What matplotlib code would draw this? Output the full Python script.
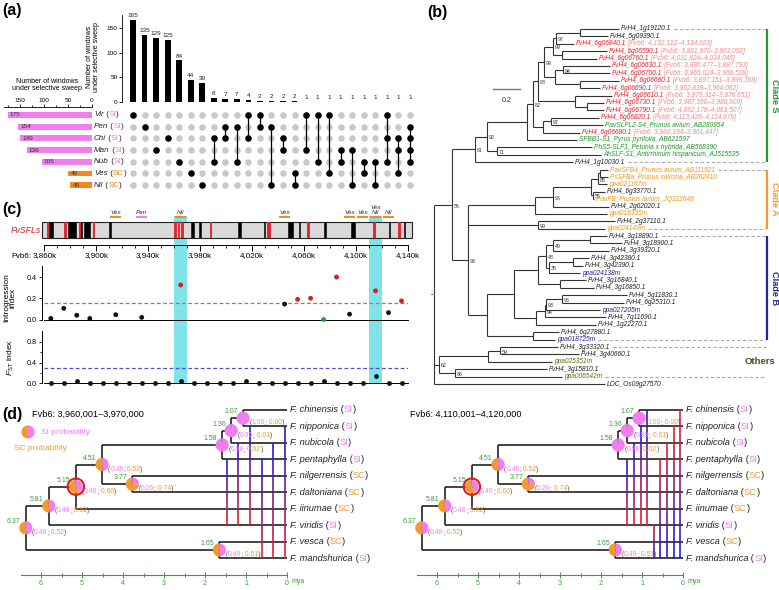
import numpy as np
import matplotlib
matplotlib.use("Agg")
import matplotlib.pyplot as plt
import matplotlib.transforms as mtransforms
from matplotlib.collections import LineCollection
from matplotlib.patches import Wedge, Circle, Rectangle
from matplotlib.colors import to_rgb

plt.rcParams['font.family'] = ['Liberation Sans', 'DejaVu Sans']
plt.rcParams['mathtext.fontset'] = 'custom'
plt.rcParams['mathtext.rm'] = 'Liberation Sans'
plt.rcParams['mathtext.it'] = 'Liberation Sans:italic'

PINK = '#f07ef0'
ORANGE = '#f5871f'
RED = '#e3202a'
CYAN = '#80e3ea'
GREEN = '#23962c'
NAVY = '#23239a'
OLIVE = '#6b671c'
TXT = '#222222'

# ---------------- (a) upset data
sets = ['Vir', 'Pen', 'Chi', 'Man', 'Nub', 'Ves', 'Nil']
set_mating = ['SI', 'SI', 'SI', 'SI', 'SI', 'SC', 'SC']
set_sizes = [175, 154, 149, 136, 105, 49, 45]
inter_counts = [165, 135, 129, 125, 84, 44, 39, 8, 7, 7, 4, 2, 2, 2, 2, 1, 1, 1, 1, 1, 1, 1, 1, 1, 1]
inter_members = [['Vir'], ['Pen'], ['Man'], ['Chi'], ['Nub'], ['Ves'], ['Nil'],
                 ['Chi', 'Nub'], ['Pen', 'Chi'], ['Pen', 'Nub'], ['Vir', 'Chi'], ['Vir', 'Pen'],
                 ['Pen', 'Nil'], ['Chi', 'Man'], ['Ves', 'Nil'], ['Vir', 'Man'], ['Vir', 'Nub'],
                 ['Vir', 'Ves'], ['Man', 'Nub'], ['Man', 'Nil'], ['Nub', 'Ves'], ['Nub', 'Nil'],
                 ['Vir', 'Chi', 'Nub'], ['Chi', 'Man', 'Ves'], ['Pen', 'Chi', 'Man', 'Nub']]

# ---------------- (b) tree data
tip_names = ['FvH4_1g19120.1', 'FvH4_5g09390.1', 'FvH4_6g06840.1', 'FvH4_6g06590.1', 'FvH4_6g06760.1',
             'FvH4_6g06630.1', 'FvH4_6g06700.1', 'FvH4_6g06660.1', 'FvH4_6g06690.1', 'FvH4_6g06610.1',
             'FvH4_6g06730.1', 'FvH4_6g06790.1', 'FvH4_6g06820.1', 'PavSLFL2-S4_Prunus avium_AB280954',
             'FvH4_6g06680.1', 'SFBB1-S1_Pyrus pyrifolia_AB621597', 'PhS5-SLF1_Petunia x hybrida_AB568390',
             'AhSLF-S1_Antirrhinum hispanicum_AJ515535', 'FvH4_1g10030.1',
             'PavSFB4_Prunus avium_AB111521', 'PsSFBa_Prunus salicina_AB262410', 'ppa021167m',
             'FvH4_6g33770.1', 'PavFB_Prunus avium_JQ322648', 'FvH4_2g02020.1', 'ppa018335m',
             'FvH4_2g37110.1', 'ppa024149m',
             'FvH4_3g18890.1', 'FvH4_3g18900.1', 'FvH4_3g39320.1', 'FvH4_3g42380.1', 'FvH4_3g42390.1',
             'ppa024138m', 'FvH4_3g16840.1', 'FvH4_3g16850.1', 'FvH4_5g11830.1', 'FvH4_6g25310.1',
             'ppa027205m', 'FvH4_7g11690.1', 'FvH4_1g22270.1', 'FvH4_6g27880.1', 'ppa018725m',
             'FvH4_3g33320.1', 'FvH4_3g40660.1', 'ppa025351m', 'FvH4_3g15810.1', 'ppa006542m',
             'LOC_Os09g27570']
tip_group = list('kkrrrrrrrrrrrgrgggk' 'oookokoko' 'kkkkkbkkkkbkkkb' 'kkykyk')
tip_region = {2: '4,132,122–4,134,023', 3: '3,861,970–3,863,092', 4: '4,031,824–4,034,045',
              5: '3,886,477–3,887,793', 6: '3,965,024–3,966,528', 7: '3,897,151–3,898,398',
              8: '3,962,839–3,964,062', 9: '3,875,314–3,876,651', 10: '3,987,350–3,988,600',
              11: '4,062,179–4,063,507', 12: '4,113,426–4,114,676', 14: '3,960,194–3,961,447'}
tip_len = [1.370, 1.289, 1.037, 1.281, 1.207, 1.304, 1.304, 1.370, 1.230, 1.319, 1.259, 1.259, 1.222,
           1.252, 1.081, 1.059, 1.170, 1.237, 1.030,
           1.289, 1.289, 1.281, 1.267, 1.185, 1.296, 1.281, 1.341, 1.267,
           1.281, 1.393, 1.296, 1.148, 1.104, 1.081, 1.126, 1.185, 1.430, 1.407, 1.230, 1.274, 1.200,
           0.926, 0.896,
           0.919, 1.074, 0.874, 0.837, 0.948, 1.267]
dashed_tips = [0, 18, 19, 27, 28, 42, 43, 47]
clades = [('Clade S', 0, 18, GREEN), ('Clade A', 19, 27, '#f39a2a'), ('Clade B', 28, 42, NAVY)]


def nd(x, sup, *kids):
    return {'x': x, 'sup': sup, 'kids': list(kids)}


tree_b = nd(0.0, None,
    nd(0.133, '56',
        nd(0.304, '61',
            nd(0.393, '92',
                nd(0.689, None,
                    nd(0.733, '82',
                        nd(0.770, '88',
                            nd(0.815, '99',
                                nd(0.881, '99',
                                    nd(0.904, '97', nd(1.081, None, 0, 1), 2),
                                    nd(0.948, None, 3, 4)),
                                nd(0.896, None, nd(0.956, '94', 5, 6), nd(1.081, None, 7, 8))),
                            nd(1.044, None, 9, nd(1.133, None, 10, 11))),
                        nd(0.807, None, nd(0.867, '97', 12, 13), 14)),
                    15),
                nd(0.467, '71', 16, 17)),
            18),
        nd(0.252, '93',
            nd(0.748, None,
                nd(0.881, '96',
                    nd(1.163, None,
                        nd(1.215, '85', nd(1.230, None, 19, 20), 21),
                        nd(1.178, '55', 22, 23)),
                    24),
                25),
            nd(0.770, '99', 26, 27),
            nd(0.393, None,
                nd(0.593, None,
                    nd(0.770, None,
                        nd(0.830, '48',
                            nd(0.881, '49', nd(1.156, None, 28, 29), 30),
                            nd(0.852, '35', nd(1.030, None, 31, 32), 33)),
                        nd(0.933, None, 34, 35)),
                    nd(0.756, None,
                        nd(0.822, '94',
                            nd(0.830, '93', nd(0.948, '96', 36, 37), 38),
                            39),
                        40)),
                nd(0.733, None, 41, 42)))),
    nd(0.037, '62',
        nd(0.400, None, nd(0.489, '59', 43, 44), 45),
        nd(0.156, '86', 46, 47)),
    48)

# ---------------- (c) track data
region = (3858, 4143)
tick_kb = list(range(3860, 4141, 40))
win_start = np.arange(3860, 4140, 10)
black_genes = [(3863.5, 3866.5), (3878, 3884.5), (3887.8, 3889.3), (3890.5, 3895.5), (3910, 3911),
               (3973, 3975), (3979, 3981), (4009, 4011.5), (4029, 4030), (4048, 4051.5), (4056, 4057),
               (4075, 4076.5), (4096.5, 4099), (4125, 4126), (4137, 4138)]
sweep_start = [3910, 3930, 3960, 4040, 4090, 4100, 4110, 4120]
sweep_label = ['Ves', 'Pen', 'Nil', 'Ves', 'Ves', 'Ves', 'Ves\nNil', 'Nil']
highlight_start = [3960, 4110]
intro_idx = [0, 1, 2, 3, 5, 7, 10, 18, 19, 20, 21, 22, 23, 25, 26, 27]
intro_val = [0.01, 0.105, 0.04, 0.01, 0.045, 0.02, 0.325, 0.145, 0.19, 0.2, 0.0, 0.40, 0.05, 0.27, 0.065, 0.175]
intro_col = ['k', 'k', 'k', 'k', 'k', 'k', 'r', 'k', 'r', 'r', 'g', 'r', 'k', 'r', 'k', 'r']
intro_cut = 0.16
fst_val = [0, 0, 0.04, 0, 0, 0, 0, 0, 0, 0, 0.04, 0, 0, 0, 0, 0.04, 0, 0, 0, 0, 0, 0.04, 0, 0, 0, 0.15, 0, 0]
fst_cut = 0.3

# ---------------- (d) data
species = ['F. chinensis', 'F. nipponica', 'F. nubicola', 'F. pentaphylla', 'F. nilgerrensis',
           'F. daltoniana', 'F. iinumae', 'F. viridis', 'F. vesca', 'F. mandshurica']
mating = ['SI', 'SI', 'SI', 'SI', 'SC', 'SC', 'SC', 'SI', 'SC', 'SI']


def an(age, si, *kids, mark=False):
    return {'x': age, 'si': si, 'kids': list(kids), 'mark': mark}


tree_d = an(6.37, 0.48,
    an(5.81, 0.48,
        an(5.15, 0.40,
            an(4.51, 0.48,
                an(1.58, 0.98, an(1.36, 0.99, an(1.07, 1.00, 0, 1), 2), 3),
                an(3.77, 0.26, 4, 5)),
            6, mark=True),
        7),
    an(1.65, 0.49, 8, 9))
windows_d = ['Fvb6: 3,960,001–3,970,000', 'Fvb6: 4,110,001–4,120,000']
flow_age = [[1.46, 1.20, 0.90, 0.61, 0.34, 0.05],
            [1.37, 1.20, 1.02, 0.88, 0.71, 0.56, 0.39, 0.22, 0.07]]
flow_from = [[3, 2, 1, 3, 2, 1], [3, 2, 1, 0, 7, 3, 2, 1, 0]]
flow_to = [[7, 7, 7, 9, 9, 9], [7, 7, 7, 7, 9, 9, 9, 9, 9]]
flow_dir = [[1, 1, 1, 1, 1, 1], [1, 1, 1, 1, -1, -1, -1, -1, -1]]

# ================= figure
W, H = 779, 590
fig = plt.figure(figsize=(W / 100, H / 100), dpi=100)
rend = fig.canvas.get_renderer()


def px_axes(x0, y0, x1, y1):
    ax = fig.add_axes([x0 / W, 1 - y1 / H, (x1 - x0) / W, (y1 - y0) / H])
    ax.patch.set_visible(False)
    return ax


def ftext(x, y, s, **kw):
    return fig.text(x / W, 1 - y / H, s, **kw)


def rich(ax, xy, parts, dx=0, dy=0, size=6, coords='data', va='center'):
    off = dx
    for s, c, st in parts:
        t = ax.annotate(s, xy, xycoords=coords, xytext=(off * 0.72, dy * 0.72),
                        textcoords='offset points', color=c, fontsize=size, fontstyle=st,
                        ha='left', va=va, annotation_clip=False)
        off += t.get_window_extent(rend).width
    return off


def mix(c0, c1, t):
    a, b = np.array(to_rgb(c0)), np.array(to_rgb(c1))
    return tuple(a + (b - a) * t)


for lab, x, y in [('(a)', 2, 11), ('(b)', 427, 12), ('(c)', 2, 210), ('(d)', 2, 415)]:
    ftext(x, y, lab, fontsize=11.5, fontweight='bold', va='center', ha='left')

# ---------------- (a)
col_x0, col_dx = 133, 11.54
a_xlim = ((122 - col_x0) / col_dx, (416 - col_x0) / col_dx)
row_y0, row_dy = 115, 11.7
a_ylim = ((192 - row_y0) / row_dy, (107 - row_y0) / row_dy)
xs = np.arange(len(inter_counts))

axb = px_axes(122, 15, 416, 102)
axb.bar(xs, inter_counts, width=0.5, color='black')
for x, v in zip(xs, inter_counts):
    axb.text(x, v + 4, str(v), ha='center', va='bottom', fontsize=4.6, color=TXT)
axb.set_xlim(*a_xlim)
axb.set_ylim(0, 176)
for s in ['top', 'right', 'bottom']:
    axb.spines[s].set_visible(False)
axb.spines['left'].set_linewidth(0.6)
axb.set_xticks([])
axb.set_yticks([0, 50, 100, 150])
axb.tick_params(axis='y', labelsize=4.6, length=2, width=0.6, pad=1)
ftext(93, 57, 'Number of windows\nunder selective sweep', rotation=90, fontsize=5,
      ha='center', va='center', linespacing=1.1)

axm = px_axes(122, 107, 416, 192)
axm.set_xlim(*a_xlim)
axm.set_ylim(*a_ylim)
axm.axis('off')
gx, gy = np.meshgrid(xs, np.arange(len(sets)))
axm.scatter(gx.ravel(), gy.ravel(), s=22, color='#c8c8c8', lw=0)
for x, mem in zip(xs, inter_members):
    rows = [sets.index(m) for m in mem]
    if len(rows) > 1:
        axm.plot([x, x], [min(rows), max(rows)], color='k', lw=0.9, zorder=2)
    axm.scatter([x] * len(rows), rows, s=22, color='k', lw=0, zorder=3)
for r, (s, m) in enumerate(zip(sets, set_mating)):
    rich(axm, (94, r), [(s, TXT, 'italic'), (' (', TXT, 'normal'),
                        (m, PINK if m == 'SI' else ORANGE, 'normal'), (')', TXT, 'normal')],
         size=5.8, coords=('figure pixels', 'data'))

axs = px_axes(4, 107, 92, 192)
axs.barh(np.arange(len(sets)), set_sizes, height=0.5,
         color=[PINK if m == 'SI' else ORANGE for m in set_mating])
axs.set_xlim(183, 0)
axs.set_ylim(*a_ylim)
for s in ['bottom', 'left', 'right']:
    axs.spines[s].set_visible(False)
axs.spines['top'].set_linewidth(0.6)
axs.xaxis.tick_top()
axs.set_xticks([150, 100, 50, 0])
axs.set_xticks([175, 125, 75, 25], minor=True)
axs.tick_params(axis='x', which='both', labelsize=4.6, length=2, width=0.6, pad=1)
axs.tick_params(axis='x', which='minor', length=1.3)
axs.set_yticks([])
for r, v in enumerate(set_sizes):
    axs.annotate(str(v), (v, r), xytext=(1.5, 0), textcoords='offset points', fontsize=4.6,
                 color='#333333', ha='left', va='center')
ftext(47, 85, 'Number of windows\nunder selective sweep', fontsize=5, ha='center', va='center',
      linespacing=1.1)

# ---------------- (c)
cx0, cx1 = 44.3, 408


def c_axes(y0, y1):
    ax = px_axes(cx0, y0, cx1, y1)
    ax.set_xlim(3860, 4140)
    return ax


axh = c_axes(216, 384)
axh.axis('off')
for s in highlight_start:
    axh.axvspan(s, s + 10, color=CYAN, lw=0)

axt = c_axes(222, 238)
axt.set_ylim(0, 1)
axt.add_patch(Rectangle((region[0], 0), region[1] - region[0], 1, fc='#d9d9d9', ec='#222222',
                        lw=0.8, clip_on=False, zorder=0))
for s, e in black_genes:
    axt.axvspan(s, e, color='k', lw=0.4, zorder=1)
for i, reg in tip_region.items():
    st, en = [int(v.replace(',', '')) / 1000 for v in reg.split('–')]
    axt.axvspan(st, en, color=RED, lw=0.6, zorder=2)
for s in ['top', 'left', 'right']:
    axt.spines[s].set_visible(False)
axt.spines['bottom'].set_position(('outward', 5))
axt.spines['bottom'].set_linewidth(0.7)
axt.spines['bottom'].set_bounds(3860, 4140)
axt.set_yticks([])
axt.set_xticks(tick_kb)
axt.set_xticklabels([f'{v:,}k' for v in tick_kb])
axt.set_xticks(list(range(3870, 4140, 10)), minor=True)
axt.tick_params(axis='x', which='major', labelsize=5.8, length=4, width=0.7, pad=1)
axt.tick_params(axis='x', which='minor', length=2, width=0.6)
ftext(31, 256, 'Fvb6:', fontsize=5.8, ha='right', va='center')
ftext(41, 231, 'FvSFLs', fontsize=6.3, color=RED, style='italic', ha='right', va='center')
for s, lab in zip(sweep_start, sweep_label):
    col = PINK if lab == 'Pen' else ORANGE
    axt.plot([s + 0.6, s + 9.4], [1.31, 1.31], color=col, lw=1.4, clip_on=False,
             solid_capstyle='butt')
    axt.text(s + 5, 1.45, lab, fontsize=4.6, style='italic', color='#333333', ha='center',
             va='bottom', linespacing=0.85, clip_on=False)

axi = c_axes(266.4, 319.5)
axi.set_ylim(0, 0.5)
cmap_i = {'k': '#111111', 'r': '#e01a22', 'g': '#2a9a2a'}
axi.scatter(win_start[intro_idx] + 5, intro_val, c=[cmap_i[c] for c in intro_col], s=12, lw=0,
            zorder=3, clip_on=False)
axi.axhline(intro_cut, color='#e8555a', ls=(0, (3, 2)), lw=0.9)
for s in ['top', 'right']:
    axi.spines[s].set_visible(False)
axi.spines['left'].set_position(('outward', 2))
for s in ['left', 'bottom']:
    axi.spines[s].set_linewidth(0.7)
axi.set_xticks([])
axi.set_yticks([0, 0.2, 0.4])
axi.set_yticklabels(['0.0', '0.2', '0.4'])
axi.tick_params(axis='y', labelsize=5.2, length=2.5, width=0.6, pad=1)
ftext(10, 298, 'Introgression\nindex', rotation=90, fontsize=6, ha='center', va='center',
      linespacing=1.0)

axf = c_axes(331.3, 383.3)
axf.set_ylim(0, 1.0)
axf.scatter(win_start + 5, fst_val, color='#111111', s=12, lw=0, zorder=3, clip_on=False)
axf.axhline(fst_cut, color='#5050c8', ls=(0, (3, 2)), lw=0.9)
for s in ['top', 'right']:
    axf.spines[s].set_visible(False)
axf.spines['left'].set_position(('outward', 2))
for s in ['left', 'bottom']:
    axf.spines[s].set_linewidth(0.7)
axf.set_xticks([])
axf.set_yticks([0, 0.4, 0.8])
axf.set_yticklabels(['0.0', '0.4', '0.8'])
axf.set_yticks([0.2, 0.6], minor=True)
axf.tick_params(axis='y', which='both', labelsize=5.2, length=2.5, width=0.6, pad=1)
axf.tick_params(axis='y', which='minor', length=1.5)
ftext(11, 357, r'$\it{F}_{\rm ST}$ index', rotation=90, fontsize=6, ha='center', va='center')

# ---------------- (b)
bx_root, bx_scale = 434, 135
by0, bdy = 29, 7.396
axT = px_axes(425, 20, 779, 392)
axT.set_xlim((425 - bx_root) / bx_scale, (779 - bx_root) / bx_scale)
axT.set_ylim((392 - by0) / bdy, (20 - by0) / bdy)
axT.axis('off')


def layout(n, lens):
    if isinstance(n, int):
        return n, lens[n]
    pos = [layout(k, lens) for k in n['kids']]
    n['pos'] = pos
    n['y'] = (min(p[0] for p in pos) + max(p[0] for p in pos)) / 2
    return n['y'], n['x']


def collect(n, segs, nodes):
    if isinstance(n, int):
        return
    ys = [p[0] for p in n['pos']]
    segs.append([(n['x'], min(ys)), (n['x'], max(ys))])
    for (y, x) in n['pos']:
        segs.append([(n['x'], y), (x, y)])
    nodes.append(n)
    for k in n['kids']:
        collect(k, segs, nodes)


layout(tree_b, tip_len)
segs_b, nodes_b = [], []
collect(tree_b, segs_b, nodes_b)
axT.add_collection(LineCollection(segs_b, colors='#333333', linewidths=0.8))
axT.plot([tree_b['x'] - 0.02, tree_b['x']], [tree_b['y'], tree_b['y']], color='#888888', lw=0.8)
for n in nodes_b:
    if n['sup']:
        axT.annotate(n['sup'], (n['x'], n['y']), xytext=(1.2, -1.0), textcoords='offset points',
                     fontsize=3.8, color='#333333', ha='left', va='center')

tcol = {'k': TXT, 'r': RED, 'g': GREEN, 'o': '#f0961e', 'b': NAVY, 'y': OLIVE}
bar_x = (767 - bx_root) / bx_scale
for i, name in enumerate(tip_names):
    parts = [(name, tcol[tip_group[i]], 'italic')]
    if i in tip_region:
        parts.append((' [Fvb6: ' + tip_region[i] + ']', '#f08a8a', 'italic'))
    end = rich(axT, (tip_len[i], i), parts, dx=2, size=4.8)
    if i in dashed_tips:
        x_end_px = axT.transData.transform((tip_len[i], i))[0] + end + 3
        x_end = axT.transData.inverted().transform((x_end_px, 0))[0]
        axT.plot([x_end, bar_x - 0.01], [i, i], color='#aaaaaa', lw=0.8, ls=(0, (3, 2)))
for lab, a, b, col in clades:
    axT.plot([bar_x, bar_x], [a, b], color=col, lw=1.6, solid_capstyle='butt')
    axT.text(bar_x + 0.052, (a + b) / 2, lab, rotation=270, color=col, fontsize=6.6,
             fontweight='bold', ha='center', va='center')
axT.text((745 - bx_root) / bx_scale, 44.9, 'Others', color='#4d4a1a', fontsize=6.8,
         fontweight='bold', ha='left', va='center')
sb_x = (493 - bx_root) / bx_scale
axT.plot([sb_x, sb_x + 0.2], [8.1, 8.1], color='#777777', lw=1.0)
axT.text(sb_x + 0.1, 9.2, '0.2', fontsize=5.2, color='#333333', ha='center', va='top')

# ---------------- (d)
d_zero = [287, 683]
d_scale = 41
dy0, ddy = 410, 16.46
SIP, SCO, GRY = '#f07ef0', '#f39a2c', '#555555'
AGE_G = '#3c9b3c'


def pie(ax, x, y, si, r=0.066, tr=None):
    if tr is None:
        tr = fig.dpi_scale_trans + mtransforms.ScaledTranslation(x, y, ax.transData)
    if si < 1:
        ax.add_patch(Wedge((0, 0), r, 90, 450 - 360 * si, fc=SCO, ec='none', transform=tr,
                           clip_on=False, zorder=6))
    if si > 0:
        ax.add_patch(Wedge((0, 0), r, 90 - 360 * si, 90, fc=SIP, ec='none', transform=tr,
                           clip_on=False, zorder=6))


for k in range(2):
    x0, x1 = (5, 400) if k == 0 else (400, 779)
    ax = px_axes(x0, 400, x1, 590)
    z = d_zero[k]
    ax.set_xlim((z - x0) / d_scale, (z - x1) / d_scale)
    ax.set_ylim((590 - dy0) / ddy, (400 - dy0) / ddy)
    layout(tree_d, [0.0] * len(species))
    segs, nodes = [], []
    collect(tree_d, segs, nodes)
    ax.add_collection(LineCollection(segs, colors='#222222', linewidths=1.2, zorder=2))
    ax.plot([tree_d['x'], tree_d['x'] + 0.1], [tree_d['y']] * 2, color='#222222', lw=1.2)
    for a, f, t, d in zip(flow_age[k], flow_from[k], flow_to[k], flow_dir[k]):
        c0, c1 = ('#1c1ce0', '#e8202a') if d > 0 else ('#e8202a', '#1c1ce0')
        ys = np.linspace(f, t, 41)
        lsegs = [[(a, ys[j]), (a, ys[j + 1])] for j in range(40)]
        ax.add_collection(LineCollection(lsegs, colors=[mix(c0, c1, j / 39) for j in range(40)],
                                         linewidths=1.2, zorder=3))
    for n in nodes:
        pie(ax, n['x'], n['y'], n['si'])
        if n['mark']:
            tr = fig.dpi_scale_trans + mtransforms.ScaledTranslation(n['x'], n['y'], ax.transData)
            ax.add_patch(Circle((0, 0), 0.082, fc='none', ec='#e01c1c', lw=1.5, transform=tr,
                                clip_on=False, zorder=7))
        ax.annotate(f"{n['x']:.2f}", (n['x'], n['y']), xytext=(-5.5 * 0.72, 3 * 0.72),
                    textcoords='offset points', ha='right', va='bottom', color=AGE_G, fontsize=5)
        rich(ax, (n['x'], n['y']), [('(', GRY, 'normal'), (f"{n['si']:.2f}", SIP, 'normal'),
                                     (';', GRY, 'normal'), (f" {1 - n['si']:.2f}", SCO, 'normal'),
                                     (')', GRY, 'normal')], dx=6, dy=-4.5, size=4.9)
    for i, (sp, m) in enumerate(zip(species, mating)):
        rich(ax, (0, i), [(sp, TXT, 'italic'), (' (', TXT, 'normal'),
                          (m, SIP if m == 'SI' else SCO, 'normal'), (')', TXT, 'normal')],
             dx=3, size=6.7)
    for s in ['top', 'left', 'right']:
        ax.spines[s].set_visible(False)
    ax.spines['bottom'].set_position(('data', (575 - dy0) / ddy))
    ax.spines['bottom'].set_bounds(0, 6.5)
    ax.spines['bottom'].set_color(AGE_G)
    ax.spines['bottom'].set_linewidth(0.8)
    ax.set_yticks([])
    ax.set_xticks(range(0, 7))
    ax.set_xticklabels([str(v) for v in range(0, 7)])
    ax.set_xticks(np.arange(0.5, 6.5, 0.5), minor=True)
    ax.tick_params(axis='x', which='both', colors=AGE_G, labelsize=5, direction='inout', length=4,
                   width=0.7, pad=1.5)
    ax.tick_params(axis='x', which='minor', length=2.5)
    ax.annotate('mya', (0, (575 - dy0) / ddy), xytext=(3, -2.4), textcoords='offset points',
                ha='left', va='top', fontsize=5, color=AGE_G, annotation_clip=False)
    ftext(x0 + (27 if k == 0 else 10), 414, windows_d[k], fontsize=6.6, ha='left', va='center')
    if k == 0:
        tr = fig.dpi_scale_trans + mtransforms.ScaledTranslation(28, H - 432,
                                                                 mtransforms.IdentityTransform())
        pie(ax, 0, 0, 0.5, tr=tr)
        ftext(41, 432, 'SI probability', fontsize=6, color=SIP, ha='left', va='center')
        ftext(14, 448, 'SC probability', fontsize=6, color=SCO, ha='left', va='center')

fig.savefig('out.png', dpi=100)
